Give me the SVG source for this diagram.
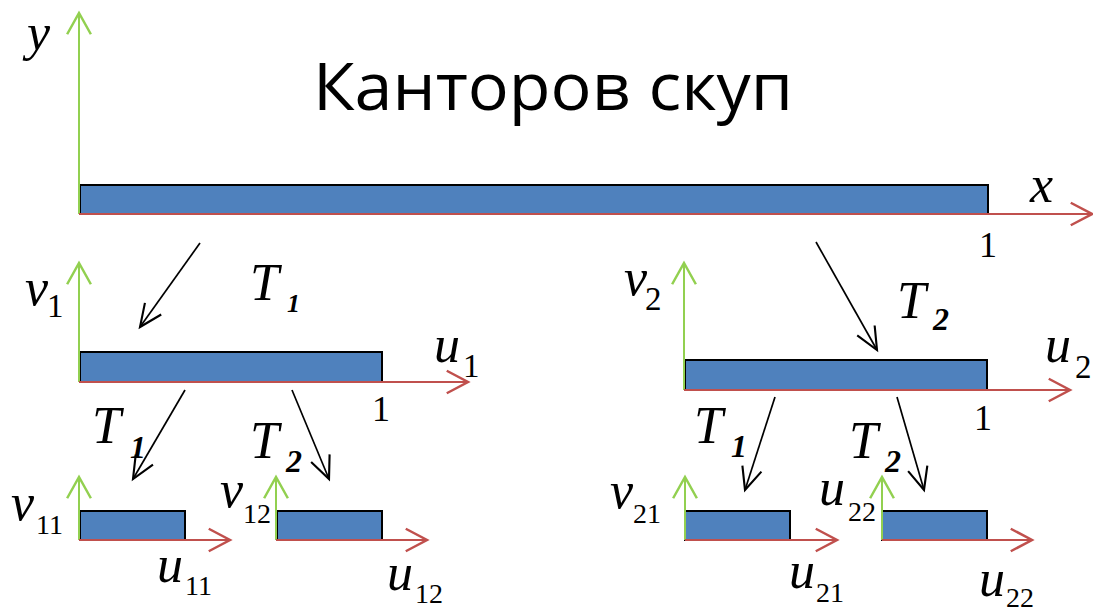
<svg xmlns="http://www.w3.org/2000/svg" width="1093" height="607" viewBox="0 0 1093 607">
<style>
.bar{fill:#4F81BD;stroke:#000;stroke-width:2}
.ax-r{stroke:#C0504D;stroke-width:2;fill:none}
.ax-g{stroke:#92D050;stroke-width:2;fill:none}
.map{stroke:#000;stroke-width:1.7;fill:none}
text{font-family:'Liberation Serif',serif}
.lab{font-style:italic;font-size:52px;fill:#000}
.sub{font-size:33px;fill:#000}
.sub3{font-size:28px;fill:#000}
.tsub{font-style:italic;font-weight:bold;font-size:32px;fill:#000}
.one{font-size:36px;fill:#000}
.title{font-family:'Open Sans',sans-serif;font-size:66px;fill:#000}
</style>
<defs>
<marker id="hr" markerUnits="userSpaceOnUse" markerWidth="30" markerHeight="30" viewBox="-20 -12 24 24" refX="0" refY="0" orient="auto">
<path d="M-17,-9 L0,0 L-17,9" fill="none" stroke="#C0504D" stroke-width="2"/>
</marker>
<marker id="hg" markerUnits="userSpaceOnUse" markerWidth="30" markerHeight="30" viewBox="-20 -12 24 24" refX="0" refY="0" orient="auto">
<path d="M-17,-9.5 L0,0 L-17,9.5" fill="none" stroke="#92D050" stroke-width="2"/>
</marker>
<marker id="hb" markerUnits="userSpaceOnUse" markerWidth="30" markerHeight="30" viewBox="-20 -12 24 24" refX="0" refY="0" orient="auto">
<path d="M-18,-8 L0,0 L-18,8" fill="none" stroke="#000" stroke-width="1.7"/>
</marker>
</defs>
<rect width="1093" height="607" fill="#fff"/>

<text class="title" x="313" y="110" textLength="480" lengthAdjust="spacingAndGlyphs">Канторов скуп</text>

<g id="main">
<rect class="bar" x="80" y="185" width="908" height="29"/>
<line class="ax-g" x1="79" y1="214" x2="79" y2="13" marker-end="url(#hg)"/>
<line class="ax-r" x1="79" y1="214" x2="1092" y2="214" marker-end="url(#hr)"/>
<text class="lab" x="27" y="50">y</text>
<text class="lab" x="1030" y="202">x</text>
<text class="one" x="979" y="257">1</text>
</g>

<g id="level2-left">
<rect class="bar" x="80" y="352" width="302" height="30"/>
<line class="ax-g" x1="79" y1="382" x2="79" y2="263" marker-end="url(#hg)"/>
<line class="ax-r" x1="79" y1="382" x2="468" y2="382" marker-end="url(#hr)"/>
<text class="lab" x="25" y="305">v</text>
<text class="sub" x="47" y="317">1</text>
<text class="lab" x="434" y="362">u</text>
<text class="sub" x="463" y="377">1</text>
<text class="one" x="372" y="421">1</text>
</g>

<g id="level2-right">
<rect class="bar" x="685" y="360" width="302" height="30"/>
<line class="ax-g" x1="684" y1="390" x2="684" y2="263" marker-end="url(#hg)"/>
<line class="ax-r" x1="684" y1="390" x2="1070" y2="390" marker-end="url(#hr)"/>
<text class="lab" x="624" y="295">v</text>
<text class="sub" x="645" y="310">2</text>
<text class="lab" x="1045" y="362">u</text>
<text class="sub" x="1075" y="378">2</text>
<text class="one" x="974" y="430">1</text>
</g>

<g id="level3-11">
<rect class="bar" x="80" y="511" width="105" height="29"/>
<line class="ax-g" x1="79" y1="540" x2="79" y2="477" marker-end="url(#hg)"/>
<line class="ax-r" x1="79" y1="540" x2="230" y2="540" marker-end="url(#hr)"/>
<text class="lab" x="11" y="520">v</text>
<text class="sub3" x="36" y="534">11</text>
<text class="lab" x="157" y="582">u</text>
<text class="sub3" x="185" y="595">11</text>
</g>

<g id="level3-12">
<rect class="bar" x="277" y="511" width="105" height="29"/>
<line class="ax-g" x1="276" y1="540" x2="276" y2="477" marker-end="url(#hg)"/>
<line class="ax-r" x1="276" y1="540" x2="427" y2="540" marker-end="url(#hr)"/>
<text class="lab" x="220" y="507">v</text>
<text class="sub3" x="243" y="523">12</text>
<text class="lab" x="387" y="590">u</text>
<text class="sub3" x="415" y="603">12</text>
</g>

<g id="level3-21">
<rect class="bar" x="685" y="511" width="105" height="29"/>
<line class="ax-g" x1="685" y1="540" x2="685" y2="477" marker-end="url(#hg)"/>
<line class="ax-r" x1="685" y1="540" x2="837" y2="540" marker-end="url(#hr)"/>
<text class="lab" x="610" y="508">v</text>
<text class="sub3" x="633" y="523">21</text>
<text class="lab" x="789" y="588">u</text>
<text class="sub3" x="816" y="602">21</text>
</g>

<g id="level3-22">
<rect class="bar" x="882" y="511" width="105" height="29"/>
<line class="ax-g" x1="882" y1="540" x2="882" y2="477" marker-end="url(#hg)"/>
<line class="ax-r" x1="882" y1="540" x2="1032" y2="540" marker-end="url(#hr)"/>
<text class="lab" x="819" y="505">u</text>
<text class="sub3" x="848" y="521">22</text>
<text class="lab" x="979" y="596">u</text>
<text class="sub3" x="1006" y="607">22</text>
</g>

<g id="connectors">
<line class="map" x1="200" y1="243" x2="140" y2="327" marker-end="url(#hb)"/>
<line class="map" x1="816" y1="242" x2="877" y2="350" marker-end="url(#hb)"/>
<line class="map" x1="185" y1="390" x2="133" y2="479" marker-end="url(#hb)"/>
<line class="map" x1="292" y1="390" x2="329" y2="479" marker-end="url(#hb)"/>
<line class="map" x1="775" y1="397" x2="745" y2="490" marker-end="url(#hb)"/>
<line class="map" x1="897" y1="397" x2="924" y2="490" marker-end="url(#hb)"/>
</g>

<g id="maps">
<text class="lab" x="250" y="300">T</text>
<text class="tsub" x="287" y="312" style="font-size:26px">1</text>
<text class="lab" x="897" y="318">T</text>
<text class="tsub" x="933" y="330">2</text>
<text class="lab" x="92" y="443">T</text>
<text class="tsub" x="130" y="458">1</text>
<text class="lab" x="250" y="458">T</text>
<text class="tsub" x="286" y="472">2</text>
<text class="lab" x="694" y="443">T</text>
<text class="tsub" x="731" y="457">1</text>
<text class="lab" x="849" y="458">T</text>
<text class="tsub" x="885" y="472">2</text>
</g>
</svg>
